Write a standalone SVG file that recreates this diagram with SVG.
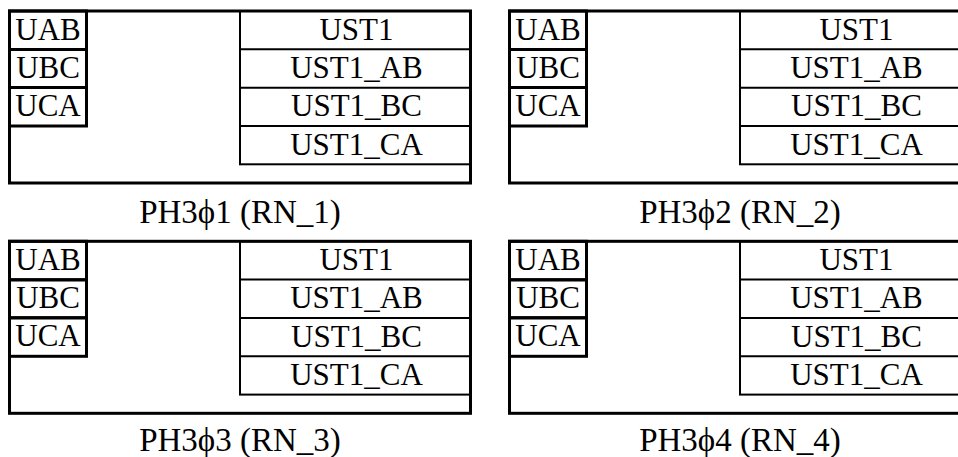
<svg xmlns="http://www.w3.org/2000/svg" width="958" height="457" viewBox="0 0 958 457">
<style>
.outer{fill:none;stroke:#000;stroke-width:3}
.box{fill:none;stroke:#000;stroke-width:3}
.tbl{fill:none;stroke:#000;stroke-width:2}
</style>
<rect width="958" height="457" fill="#fff"/>
<g id="node-rn1" transform="translate(9.5,11)">
<rect class="tbl" x="230.5" y="0" width="230.5" height="153.3"/>
<line class="tbl" x1="230.5" y1="38.3" x2="461" y2="38.3"/>
<line class="tbl" x1="230.5" y1="76.7" x2="461" y2="76.7"/>
<line class="tbl" x1="230.5" y1="115" x2="461" y2="115"/>
<rect class="outer" x="0" y="0" width="461" height="172"/>
<rect class="box" x="0" y="0" width="77" height="38.5"/>
<rect class="box" x="0" y="38.5" width="77" height="38"/>
<rect class="box" x="0" y="76.5" width="77" height="38.5"/>
<g font-family="'Liberation Serif'" font-size="31" text-anchor="middle" fill="#000">
<text x="38.5" y="28.5">UAB</text>
<text x="38.5" y="66.5">UBC</text>
<text x="38.5" y="105">UCA</text>
<text x="347" y="28.5">UST1</text>
<text x="347" y="67">UST1_AB</text>
<text x="347" y="105.3">UST1_BC</text>
<text x="347" y="143.5">UST1_CA</text>
<text x="230.5" y="212" font-size="33">PH3ϕ1 (RN_1)</text>
</g>
</g>
<g id="node-rn2" transform="translate(509.5,11)">
<rect class="tbl" x="230.5" y="0" width="230.5" height="153.3"/>
<line class="tbl" x1="230.5" y1="38.3" x2="461" y2="38.3"/>
<line class="tbl" x1="230.5" y1="76.7" x2="461" y2="76.7"/>
<line class="tbl" x1="230.5" y1="115" x2="461" y2="115"/>
<rect class="outer" x="0" y="0" width="461" height="172"/>
<rect class="box" x="0" y="0" width="77" height="38.5"/>
<rect class="box" x="0" y="38.5" width="77" height="38"/>
<rect class="box" x="0" y="76.5" width="77" height="38.5"/>
<g font-family="'Liberation Serif'" font-size="31" text-anchor="middle" fill="#000">
<text x="38.5" y="28.5">UAB</text>
<text x="38.5" y="66.5">UBC</text>
<text x="38.5" y="105">UCA</text>
<text x="347" y="28.5">UST1</text>
<text x="347" y="67">UST1_AB</text>
<text x="347" y="105.3">UST1_BC</text>
<text x="347" y="143.5">UST1_CA</text>
<text x="230.5" y="212" font-size="33">PH3ϕ2 (RN_2)</text>
</g>
</g>
<g id="node-rn3" transform="translate(9.5,241.3)">
<rect class="tbl" x="230.5" y="0" width="230.5" height="153.3"/>
<line class="tbl" x1="230.5" y1="38.3" x2="461" y2="38.3"/>
<line class="tbl" x1="230.5" y1="76.7" x2="461" y2="76.7"/>
<line class="tbl" x1="230.5" y1="115" x2="461" y2="115"/>
<rect class="outer" x="0" y="0" width="461" height="172"/>
<rect class="box" x="0" y="0" width="77" height="38.5"/>
<rect class="box" x="0" y="38.5" width="77" height="38"/>
<rect class="box" x="0" y="76.5" width="77" height="38.5"/>
<g font-family="'Liberation Serif'" font-size="31" text-anchor="middle" fill="#000">
<text x="38.5" y="28.5">UAB</text>
<text x="38.5" y="66.5">UBC</text>
<text x="38.5" y="105">UCA</text>
<text x="347" y="28.5">UST1</text>
<text x="347" y="67">UST1_AB</text>
<text x="347" y="105.3">UST1_BC</text>
<text x="347" y="143.5">UST1_CA</text>
<text x="230.5" y="209.5" font-size="33">PH3ϕ3 (RN_3)</text>
</g>
</g>
<g id="node-rn4" transform="translate(509.5,241.3)">
<rect class="tbl" x="230.5" y="0" width="230.5" height="153.3"/>
<line class="tbl" x1="230.5" y1="38.3" x2="461" y2="38.3"/>
<line class="tbl" x1="230.5" y1="76.7" x2="461" y2="76.7"/>
<line class="tbl" x1="230.5" y1="115" x2="461" y2="115"/>
<rect class="outer" x="0" y="0" width="461" height="172"/>
<rect class="box" x="0" y="0" width="77" height="38.5"/>
<rect class="box" x="0" y="38.5" width="77" height="38"/>
<rect class="box" x="0" y="76.5" width="77" height="38.5"/>
<g font-family="'Liberation Serif'" font-size="31" text-anchor="middle" fill="#000">
<text x="38.5" y="28.5">UAB</text>
<text x="38.5" y="66.5">UBC</text>
<text x="38.5" y="105">UCA</text>
<text x="347" y="28.5">UST1</text>
<text x="347" y="67">UST1_AB</text>
<text x="347" y="105.3">UST1_BC</text>
<text x="347" y="143.5">UST1_CA</text>
<text x="230.5" y="209.5" font-size="33">PH3ϕ4 (RN_4)</text>
</g>
</g>
<g id="connectors"></g>
</svg>
